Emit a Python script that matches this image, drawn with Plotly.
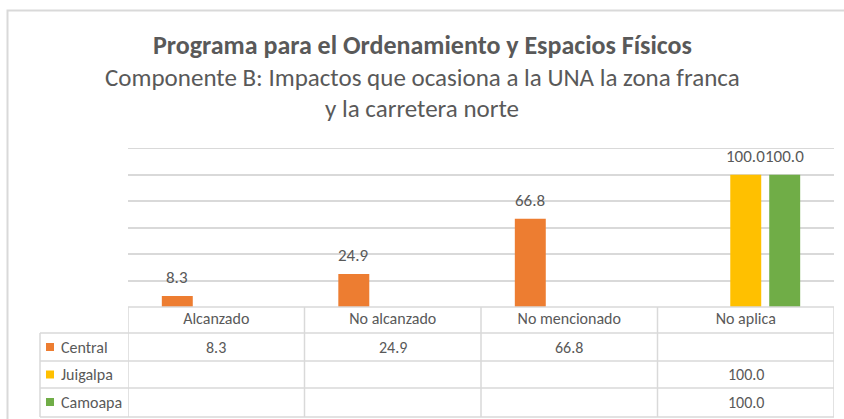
import plotly.graph_objects as go

# 資料
categories = ['Alcanzado', 'No alcanzado', 'No mencionado', 'No aplica']
series_names = ['Central', 'Juigalpa', 'Camoapa']
central = [8.3, 24.9, 66.8, None]
juigalpa = [None, None, None, 100.0]
camoapa = [None, None, None, 100.0]

title_1 = 'Programa para el Ordenamiento y Espacios Físicos'
title_2 = 'Componente B: Impactos que ocasiona a la UNA la zona franca'
title_3 = 'y la carretera norte'

colors = ['#ED7D31', '#FFC000', '#70AD47']
series_values = [central, juigalpa, camoapa]
txt_color = '#595959'
grid_color = '#D9D9D9'
font_family = 'Carlito, Liberation Sans, Arial'

# 像素 -> paper 座標 (plot area: x 128..834, y 148..307)
def py(p):
    return (307 - p) / 159.0

def px(p):
    return (p - 128) / 706.0

fig = go.Figure()
for name, vals, col in zip(series_names, series_values, colors):
    fig.add_trace(go.Bar(x=categories, y=vals, name=name, marker=dict(color=col, line=dict(width=0)),
                         showlegend=False))

annotations = []
# 柱上數值
shifts = [-39, 0, 39]
for vals, sh in zip(series_values, shifts):
    for cat, v in zip(categories, vals):
        if v is None:
            continue
        annotations.append(dict(x=cat, y=v, xref='x', yref='y', text=f'{v:.1f}', showarrow=False,
                                xshift=sh, yanchor='bottom', yshift=6,
                                font=dict(size=17, color=txt_color, family=font_family)))

# 標題
for txt, ypx, bold in [(title_1, 45, True), (title_2, 77, False), (title_3, 108, False)]:
    annotations.append(dict(x=px(422), y=py(ypx), xref='paper', yref='paper', showarrow=False,
                            text=f'<b>{txt}</b>' if bold else txt, xanchor='center', yanchor='middle',
                            font=dict(size=26 if bold else 25, color=txt_color, family=font_family)))

# 資料表
row_centers = [347, 374.5, 402]
shapes = []
for i, (name, vals, col) in enumerate(zip(series_names, series_values, colors)):
    yc = row_centers[i]
    annotations.append(dict(x=px(59), y=py(yc), xref='paper', yref='paper', showarrow=False,
                            text=name, xanchor='left', yanchor='middle',
                            font=dict(size=16, color=txt_color, family=font_family)))
    shapes.append(dict(type='rect', xref='paper', yref='paper',
                       x0=px(46), x1=px(54), y0=py(yc + 4), y1=py(yc - 4),
                       fillcolor=col, line=dict(width=0)))
    for cat, v in zip(categories, vals):
        if v is None:
            continue
        annotations.append(dict(x=cat, y=py(yc), xref='x', yref='paper', showarrow=False,
                                text=f'{v:.1f}', xanchor='center', yanchor='middle',
                                font=dict(size=16, color=txt_color, family=font_family)))

line_style = dict(color=grid_color, width=1.5)
# 最上方格線
shapes.append(dict(type='line', xref='paper', yref='y', x0=0, x1=1, y0=120, y1=120, line=line_style))
# 水平線
shapes.append(dict(type='line', xref='paper', yref='paper', x0=0, x1=1, y0=0, y1=0, line=line_style))
for ypx in [333, 361, 388, 417]:
    shapes.append(dict(type='line', xref='paper', yref='paper', x0=px(40), x1=1, y0=py(ypx), y1=py(ypx),
                       line=line_style))
# 垂直線
shapes.append(dict(type='line', xref='paper', yref='paper', x0=px(40), x1=px(40), y0=py(333), y1=py(417),
                   line=line_style))
for k in range(5):
    shapes.append(dict(type='line', xref='x', yref='paper', x0=k - 0.5, x1=k - 0.5, y0=0, y1=py(417),
                       line=line_style))
# 外框
shapes.append(dict(type='rect', xref='paper', yref='paper', x0=px(7.5), x1=px(850),
                   y0=py(440), y1=py(10.5), line=dict(color=grid_color, width=2)))

fig.update_layout(
    width=844, height=419,
    margin=dict(l=128, r=10, t=148, b=112),
    paper_bgcolor='white', plot_bgcolor='white',
    barmode='group', bargap=0.338, bargroupgap=0.205,
    showlegend=False,
    xaxis=dict(showgrid=False, showline=False, zeroline=False, ticks='',
               tickfont=dict(size=16, color=txt_color, family=font_family),
               range=[-0.5, 3.5]),
    yaxis=dict(range=[0, 120.2], dtick=20, showgrid=True, gridcolor=grid_color, gridwidth=1.5,
               showticklabels=False, zeroline=False, showline=False, ticks=''),
    annotations=annotations,
    shapes=shapes,
)

fig.write_html('out.html', config={'displayModeBar': False},
               post_script="document.body.style.margin='0';")
